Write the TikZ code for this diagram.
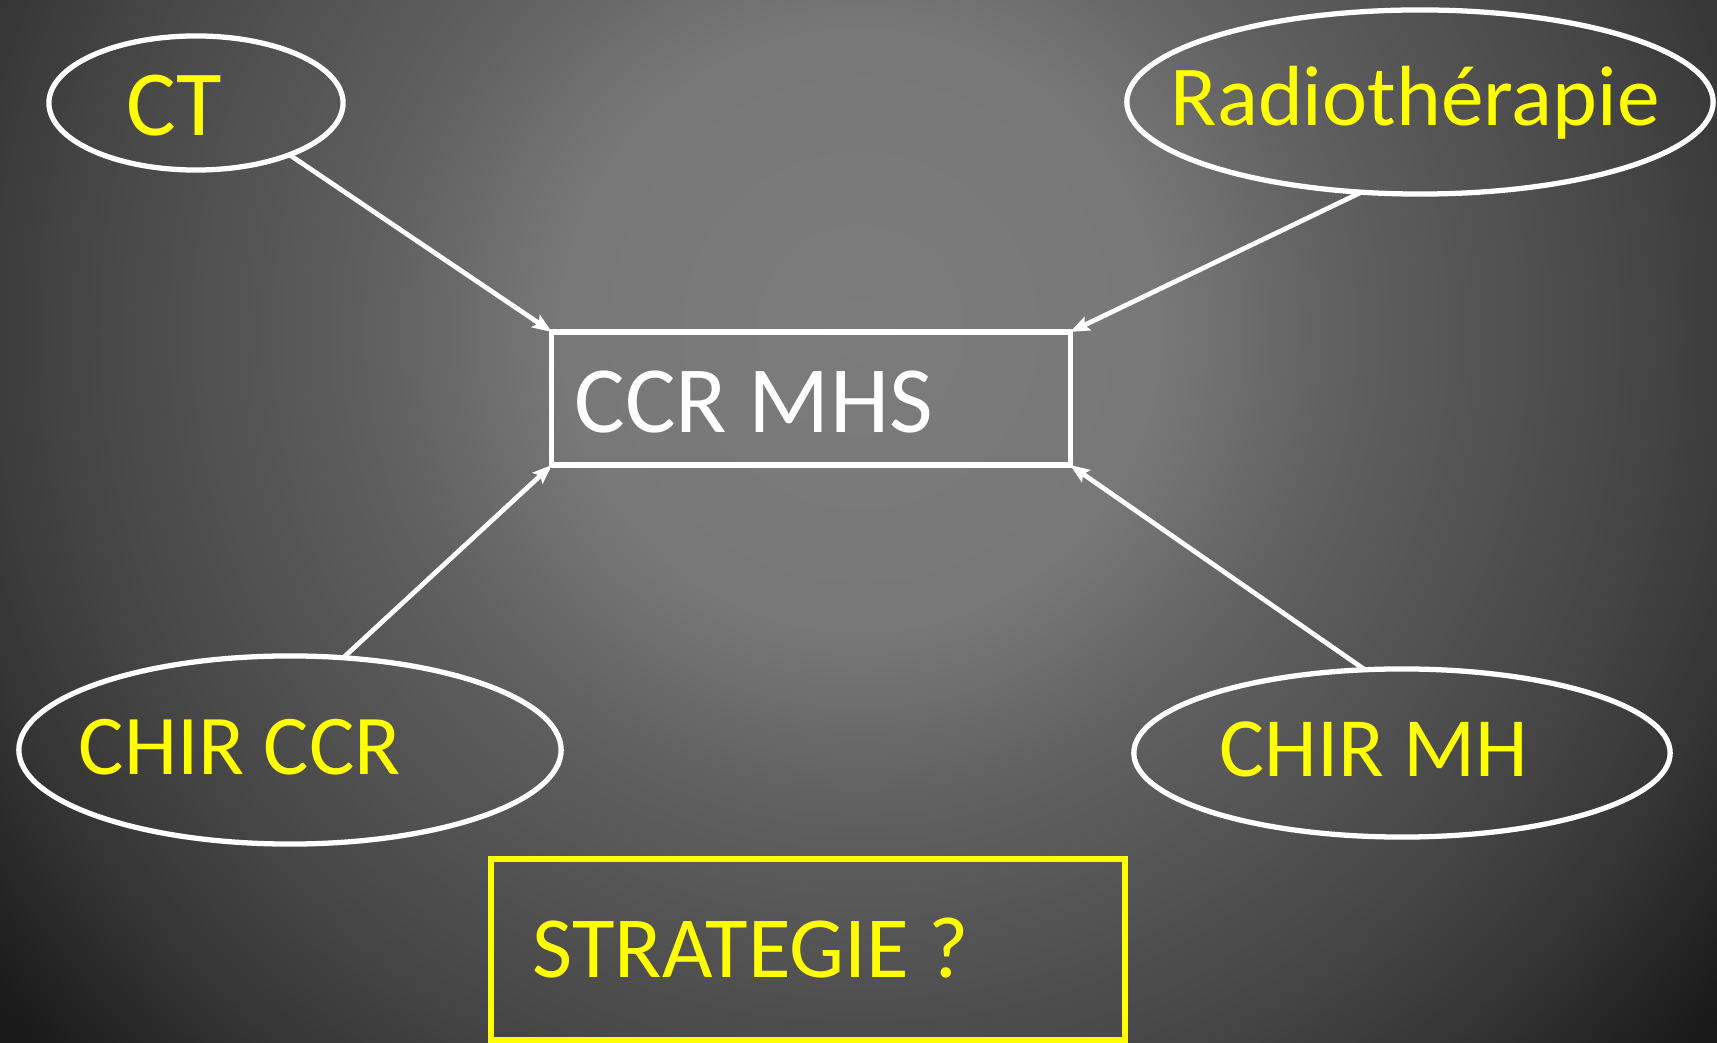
\documentclass[tikz,border=0pt]{standalone}
\usepackage{fontspec}
\setmainfont{Carlito}
\usetikzlibrary{arrows.meta,shapes.geometric}
\pgfdeclareradialshading{bgshade}{\pgfpoint{0bp}{0bp}}{rgb(0bp)=(0.486,0.486,0.486); rgb(6.25bp)=(0.47,0.47,0.47); rgb(10bp)=(0.376,0.376,0.376); rgb(16bp)=(0.278,0.278,0.278); rgb(18bp)=(0.235,0.235,0.235); rgb(19.2bp)=(0.208,0.208,0.208); rgb(22.7bp)=(0.102,0.102,0.102); rgb(25bp)=(0.078,0.078,0.078); rgb(50bp)=(0.078,0.078,0.078)}
\definecolor{txtyellow}{RGB}{255,255,0}
\tikzset{
  oval/.style={ellipse, draw=white, line width=1.5pt, inner sep=0pt, outer sep=0pt},
  mainbox/.style={rectangle, draw=white, line width=1.45pt, inner sep=0pt, outer sep=0pt},
  qbox/.style={rectangle, draw=txtyellow, line width=1.7pt, inner sep=0pt, outer sep=0pt},
  ylabel/.style={anchor=base west, inner sep=0pt, text=txtyellow},
  wlabel/.style={anchor=base west, inner sep=0pt, text=white},
  link/.style={draw=white, line width=1.35pt, -{Stealth[length=5.5pt,width=4.2pt,inset=1pt]}}
}
\begin{document}
\begin{tikzpicture}[x=0.01cm, y=-0.01cm]
\useasboundingbox (0,0) rectangle (1717,1043);
\begin{scope}
  \clip (0,0) rectangle (1717,1043);
  \shade[shading=bgshade] (-340,-870) rectangle (2060,1530);
\end{scope}
% shapes
\node[oval, minimum width=2.94cm, minimum height=1.34cm] (ct) at (196,103) {};
\node[oval, minimum width=5.86cm, minimum height=1.84cm] (radio) at (1420,102) {};
\node[oval, minimum width=5.42cm, minimum height=1.88cm] (chirccr) at (290,750) {};
\node[oval, minimum width=5.36cm, minimum height=1.68cm] (chirmh) at (1402,753) {};
\node[mainbox, minimum width=5.18cm, minimum height=1.33cm] (ccr) at (811,398.5) {};
\node[qbox, minimum width=6.34cm, minimum height=1.81cm] (strat) at (808,949.5) {};
% labels
\node[ylabel, font=\fontsize{26.5}{30}\selectfont] (tct) at (126,136) {CT};
\node[ylabel, font=\fontsize{24.3}{28}\selectfont] (tradio) at (1170,126) {Radiothérapie};
\node[wlabel, font=\fontsize{27}{31}\selectfont] (tccr) at (574,433) {CCR MHS};
\node[ylabel, font=\fontsize{24.2}{28}\selectfont] (tchirccr) at (78,775) {CHIR CCR};
\node[ylabel, font=\fontsize{24}{28}\selectfont] (tchirmh) at (1219,777) {CHIR MH};
\node[ylabel, font=\fontsize{24.8}{28}\selectfont] (tstrat) at (532,978) {STRATEGIE ?};
% connectors
\draw[link] (ct.-29) -- (ccr.north west);
\draw[link] (radio.237) -- (ccr.north east);
\draw[link] (chirccr.60) -- (ccr.south west);
\draw[link] (chirmh.114) -- (ccr.south east);
\end{tikzpicture}
\end{document}
